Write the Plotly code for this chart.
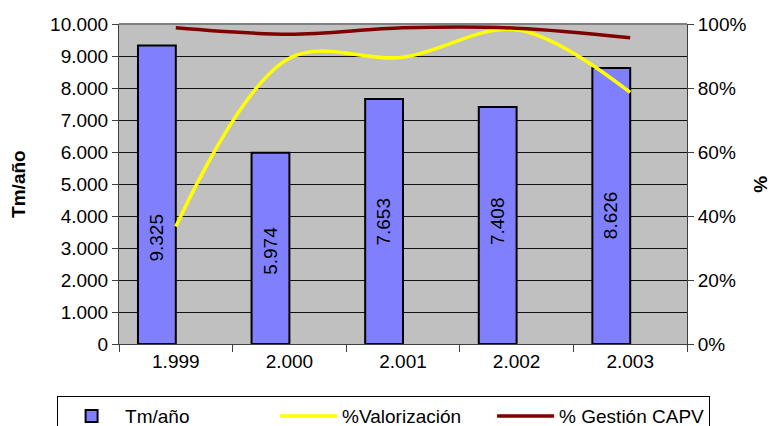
import plotly.graph_objects as go

years = ["1.999", "2.000", "2.001", "2.002", "2.003"]
tm_anio = [9325, 5974, 7653, 7408, 8626]
pct_valorizacion = [36.7, 89.3, 89.6, 98.2, 78.6]
pct_gestion = [98.8, 96.8, 98.8, 98.7, 95.7]

FONT = "Arial, Liberation Sans, sans-serif"
# pixel nudges of the value labels (as placed in the original chart)
label_nudge = [-43, -2, 0, 4, -9]

fig = go.Figure()
fig.add_trace(go.Bar(
    x=years, y=tm_anio, name="Tm/año",
    marker=dict(color="#8080FF", line=dict(color="black", width=2)),
    offset=-0.333, width=0.333,
))
fig.add_trace(go.Scatter(
    x=years, y=pct_valorizacion, name="%Valorización", yaxis="y2",
    mode="lines", line=dict(color="#FFFF00", width=3.5, shape="spline", smoothing=1.0),
))
fig.add_trace(go.Scatter(
    x=years, y=pct_gestion, name="% Gestión CAPV", yaxis="y2",
    mode="lines", line=dict(color="#800000", width=3.5, shape="spline", smoothing=1.0),
))

annotations = []
for i, (v, dy) in enumerate(zip(tm_anio, label_nudge)):
    annotations.append(dict(
        x=i, y=v / 2, xref="x", yref="y", text=f"{v:,}".replace(",", "."),
        textangle=-90, showarrow=False, xanchor="center", yanchor="middle",
        xshift=-19, yshift=dy, font=dict(size=19, family=FONT, color="black"),
    ))
annotations += [
    dict(text="<b>Tm/año</b>", xref="paper", yref="paper", x=-0.178, y=0.5,
         xanchor="center", yanchor="middle", textangle=-90, showarrow=False,
         font=dict(size=19, family=FONT)),
    dict(text="<b>%</b>", xref="paper", yref="paper", x=1.128, y=0.5,
         xanchor="center", yanchor="middle", textangle=-90, showarrow=False,
         font=dict(size=19, family=FONT)),
]

fig.update_layout(
    width=771, height=426,
    margin=dict(l=119, r=84, t=24, b=82, autoexpand=False),
    paper_bgcolor="white", plot_bgcolor="#C0C0C0",
    separators=",.",
    font=dict(family=FONT, size=19, color="black"),
    showlegend=True,
    legend=dict(
        orientation="h", x=-0.109, xanchor="left", y=-0.163, yanchor="top",
        bordercolor="black", borderwidth=1, bgcolor="white",
        font=dict(size=19, family=FONT), itemwidth=57,
        entrywidth=145, entrywidthmode="pixels", traceorder="normal",
    ),
    xaxis=dict(
        type="category", tickson="boundaries", ticks="outside", ticklen=7,
        tickcolor="#404040", showline=True, linecolor="#404040", linewidth=1,
        showgrid=False, range=[-0.5, 4.5], tickfont=dict(size=19), automargin=False,
    ),
    yaxis=dict(
        range=[0, 10000], dtick=1000, tickformat=",d", ticks="outside", ticklen=6,
        tickcolor="#404040", showline=True, linecolor="#404040", linewidth=1,
        showgrid=True, gridcolor="#111111", gridwidth=1, zeroline=False,
        tickfont=dict(size=19), automargin=False,
    ),
    yaxis2=dict(
        overlaying="y", side="right", range=[0, 100], dtick=20, ticksuffix="%",
        ticks="outside", ticklen=6, tickcolor="#404040", showline=True,
        linecolor="#404040", linewidth=1, showgrid=False, zeroline=False,
        tickfont=dict(size=19), automargin=False,
    ),
    annotations=annotations,
    shapes=[dict(type="line", xref="paper", yref="paper", x0=0, x1=1, y0=1, y1=1,
                 line=dict(color="#808080", width=2))],
)

fig.write_html("out.html", post_script="document.body.style.margin='0';",
               config={"displayModeBar": False})
